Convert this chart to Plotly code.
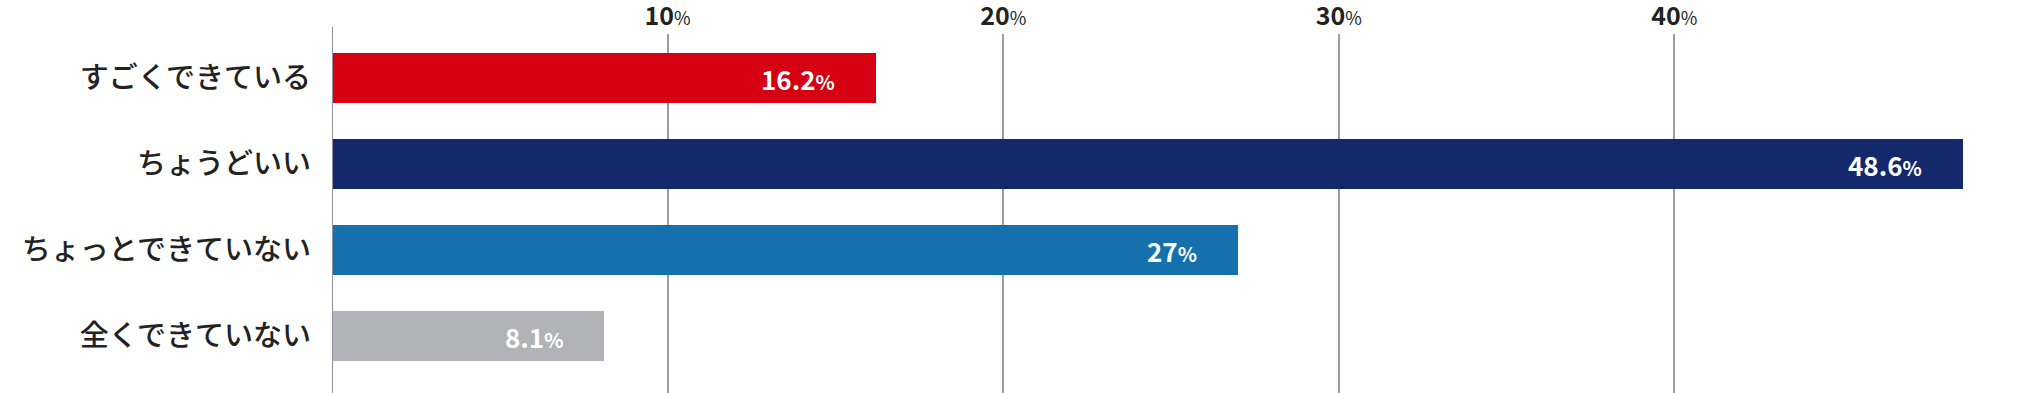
import plotly.graph_objects as go

categories = ["すごくできている", "ちょうどいい", "ちょっとできていない", "全くできていない"]
values = [16.2, 48.6, 27, 8.1]
value_labels = ["16.2", "48.6", "27", "8.1"]
colors = ["#D60013", "#13296B", "#1471AE", "#B1B3B6"]
tick_vals = [10, 20, 30, 40]
tick_nums = ["10", "20", "30", "40"]

FONT = "Noto Sans CJK JP"

fig = go.Figure()
fig.add_trace(go.Bar(
    x=values, y=categories, orientation="h",
    marker=dict(color=colors, line=dict(width=0)),
    width=0.58, hoverinfo="skip",
))

for v, lab, cat in zip(values, value_labels, categories):
    fig.add_annotation(
        x=v, y=cat, xref="x", yref="y",
        text=f"{lab}<span style='font-size:20px'>%</span>",
        showarrow=False, xanchor="right", yanchor="middle", xshift=-39,
        font=dict(family=FONT, size=26, color="#FFFFFF", weight="bold"),
    )

# zero axis line extending slightly above the grid
fig.add_shape(type="line", xref="x", yref="paper", x0=0, x1=0, y0=0, y1=1.0195,
              line=dict(color="#8E909B", width=2), layer="above")

fig.update_xaxes(
    side="top", range=[0, 50],
    tickvals=tick_vals,
    ticktext=[f"{n}<span style='font-size:18px;font-weight:normal'>%</span>" for n in tick_nums],
    tickfont=dict(family=FONT, size=25, color="#222222", weight="bold"),
    showgrid=True, gridcolor="#9A9CA6", gridwidth=2,
    zeroline=False, showline=False, ticks="", ticklabelstandoff=3,
    fixedrange=True,
)
fig.update_yaxes(
    categoryorder="array", categoryarray=categories,
    range=[3.66, -0.515],
    tickfont=dict(family=FONT, size=29, color="#222222", weight=500),
    showgrid=False, zeroline=False, showline=False, ticks="",
    ticklabelstandoff=20, fixedrange=True,
)
fig.update_layout(
    width=2040, height=393,
    margin=dict(l=332, r=30, t=34, b=0, autoexpand=False),
    plot_bgcolor="#FFFFFF", paper_bgcolor="#FFFFFF",
    showlegend=False, bargap=0,
)
fig.write_html("out.html", config={"displayModeBar": False},
               post_script="document.body.style.margin='0';document.body.style.padding='0';")
